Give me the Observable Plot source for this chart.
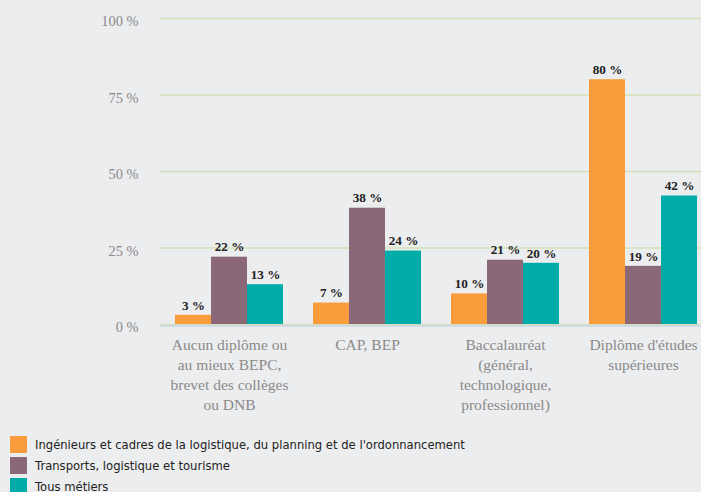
<!DOCTYPE html>
<html><head><meta charset="utf-8">
<script src="https://cdn.jsdelivr.net/npm/d3@7"></script>
<script src="https://cdn.jsdelivr.net/npm/@observablehq/plot@0.6"></script>
<style>
html,body{margin:0;padding:0;background:#ecedef;}
body{width:701px;height:492px;overflow:hidden;}
#chart svg{display:block;overflow:hidden;}
#legend{font-family:"DejaVu Sans",sans-serif;font-size:11.6px;color:#222;margin-left:10px;margin-top:9px;}
.item{display:flex;align-items:center;height:21px;}
.sw{width:17px;height:17px;margin-right:8px;flex:none;}
</style></head><body><div id="chart"></div><div id="legend"></div>
<script>
const categories = [
  "Aucun diplôme ou\nau mieux BEPC,\nbrevet des collèges\nou DNB",
  "CAP, BEP",
  "Baccalauréat\n(général,\ntechnologique,\nprofessionnel)",
  "Diplôme d'études\nsupérieures"
];
const series = [
  "Ingénieurs et cadres de la logistique, du planning et de l'ordonnancement",
  "Transports, logistique et tourisme",
  "Tous métiers"
];
const valuesIngenieurs = [3, 7, 10, 80];
const valuesTransports = [22, 38, 21, 19];
const valuesTous = [13, 24, 20, 42];
const colors = ["#fa9c3c", "#8b6878", "#00aca8"];
const yTicks = [0, 25, 50, 75, 100];

const allValues = [valuesIngenieurs, valuesTransports, valuesTous];
const data = [];
series.forEach((s, i) => categories.forEach((c, j) => data.push({category: c, series: s, value: allValues[i][j]})));

const serif = "'Liberation Serif', 'DejaVu Serif', serif";

const chart = Plot.plot({
  width: 701,
  height: 425,
  marginLeft: 160,
  marginRight: 0,
  marginTop: 18,
  marginBottom: 101,
  style: {background: "transparent", overflow: "hidden"},
  fx: {domain: categories, range: [159, 713], padding: 0, label: null},
  x: {domain: series, paddingInner: 0, paddingOuter: 0.37, axis: null},
  y: {domain: [0, 100], axis: null},
  color: {domain: series, range: colors},
  marks: [
    Plot.ruleY(yTicks, {stroke: "#d2e1b3", strokeWidth: 1.5}),
    Plot.ruleY([0], {stroke: "#c8d5e6", strokeWidth: 1.5, dy: 1.5}),
    Plot.barY(data, {fx: "category", x: "series", y: "value", fill: "series"}),
    Plot.text(data, {fx: "category", x: "series", y: "value", text: d => d.value + " %", dy: -10,
      fontWeight: "bold", fontFamily: serif, fontSize: 13.2, fill: "#222"}),
    Plot.axisY({ticks: yTicks, tickFormat: d => d + " %", tickSize: 0, tickPadding: 22, dy: 3,
      fontSize: 14.4, fontFamily: serif, fill: "#8a8a8a", label: null}),
    Plot.axisFx({anchor: "bottom", tickSize: 0, tickPadding: 11, fontSize: 15.5, fontFamily: serif,
      fill: "#8a8a8a", lineHeight: 1.29, label: null})
  ]
});
document.getElementById("chart").append(chart);

const legend = document.getElementById("legend");
series.forEach((s, i) => {
  const row = document.createElement("div");
  row.className = "item";
  const sw = document.createElement("span");
  sw.className = "sw";
  sw.style.background = colors[i];
  const t = document.createElement("span");
  t.textContent = s;
  row.append(sw, t);
  legend.append(row);
});
</script>
</body></html>
